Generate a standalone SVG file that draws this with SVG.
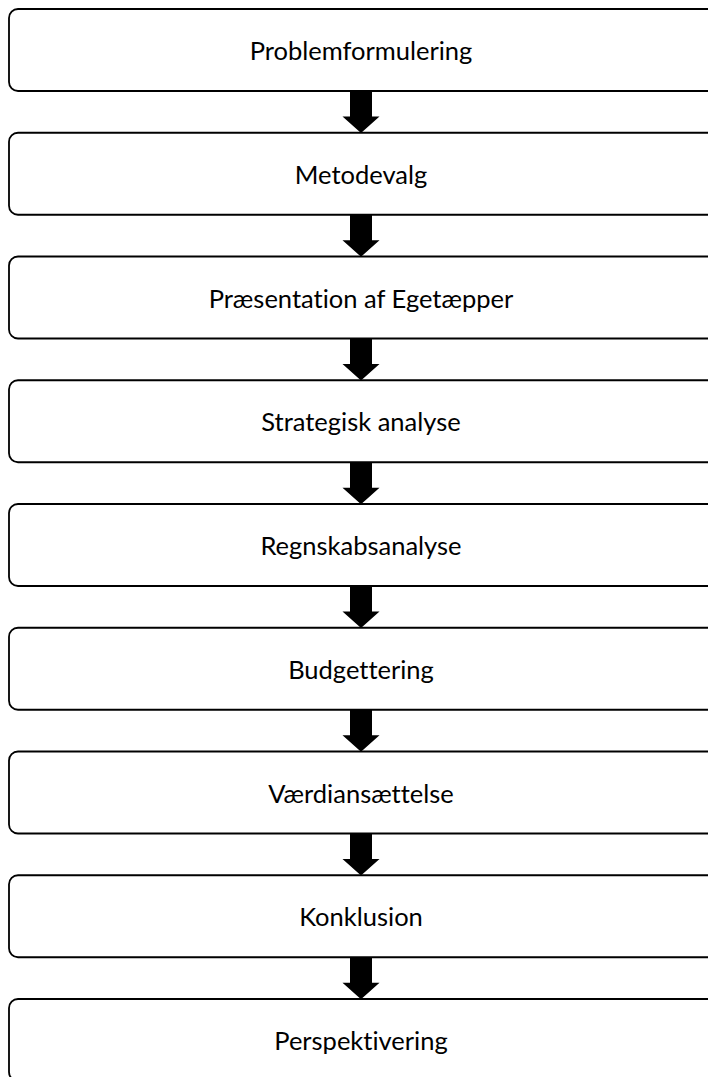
<svg xmlns="http://www.w3.org/2000/svg" width="708" height="1077" viewBox="0 0 708 1077">
<style>
.box{fill:#fff;stroke:#000;stroke-width:1.8}
.lbl{font-family:Lato,"Open Sans",sans-serif;font-size:25.5px;fill:#000;text-anchor:middle;font-variant-ligatures:none;font-feature-settings:"liga" 0}
.arr{fill:#000}
</style>
<defs>
<path id="a" class="arr" d="M350,0 H372 V27 H379.5 L361,43.5 L342.5,27 H350 Z"/>
</defs>
<rect width="708" height="1077" fill="#fff"/>
<g id="connectors">
<use href="#a" transform="translate(0,89.5)"/>
<use href="#a" transform="translate(0,213.25)"/>
<use href="#a" transform="translate(0,337)"/>
<use href="#a" transform="translate(0,460.75)"/>
<use href="#a" transform="translate(0,584.5)"/>
<use href="#a" transform="translate(0,708.25)"/>
<use href="#a" transform="translate(0,832)"/>
<use href="#a" transform="translate(0,955.75)"/>
</g>
<g id="n1"><rect class="box" x="9" y="9" width="740" height="82" rx="9"/><text class="lbl" x="361" y="60">Problemformulering</text></g>
<g id="n2"><rect class="box" x="9" y="132.75" width="740" height="82" rx="9"/><text class="lbl" x="361" y="183.75">Metodevalg</text></g>
<g id="n3"><rect class="box" x="9" y="256.5" width="740" height="82" rx="9"/><text class="lbl" x="361" y="307.5">Præsentation af Egetæpper</text></g>
<g id="n4"><rect class="box" x="9" y="380.25" width="740" height="82" rx="9"/><text class="lbl" x="361" y="431.25">Strategisk analyse</text></g>
<g id="n5"><rect class="box" x="9" y="504" width="740" height="82" rx="9"/><text class="lbl" x="361" y="555">Regnskabsanalyse</text></g>
<g id="n6"><rect class="box" x="9" y="627.75" width="740" height="82" rx="9"/><text class="lbl" x="361" y="678.75">Budgettering</text></g>
<g id="n7"><rect class="box" x="9" y="751.5" width="740" height="82" rx="9"/><text class="lbl" x="361" y="802.5">Værdiansættelse</text></g>
<g id="n8"><rect class="box" x="9" y="875.25" width="740" height="82" rx="9"/><text class="lbl" x="361" y="926.25">Konklusion</text></g>
<g id="n9"><rect class="box" x="9" y="999" width="740" height="82" rx="9"/><text class="lbl" x="361" y="1050">Perspektivering</text></g>
</svg>
